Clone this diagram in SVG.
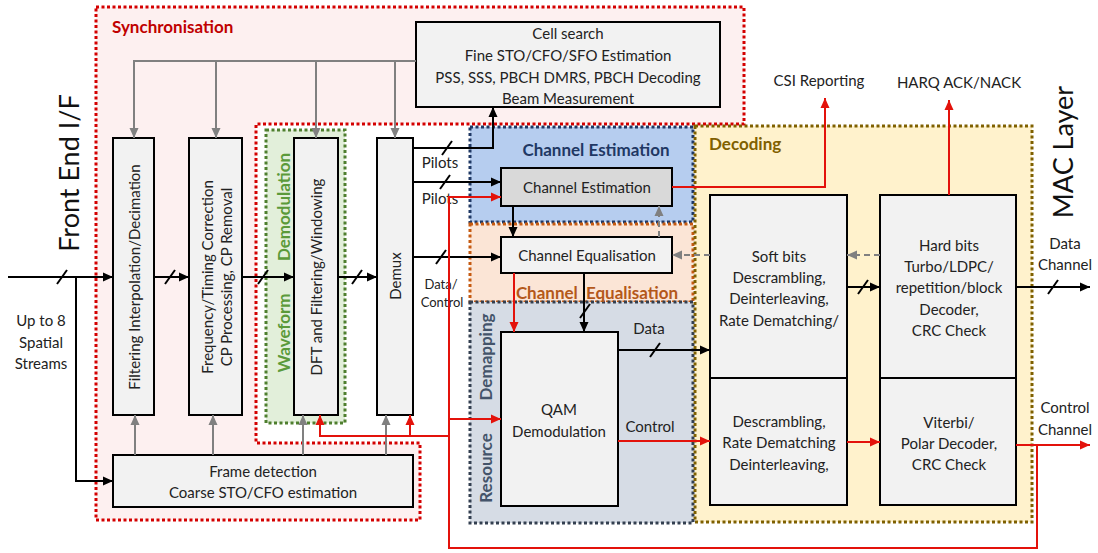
<svg xmlns="http://www.w3.org/2000/svg" xmlns:xlink="http://www.w3.org/1999/xlink" width="1098" height="553" viewBox="0 0 1098 553">
<style>
.t{font-family:Lato,"Liberation Sans",sans-serif;font-size:15px;fill:#222;text-anchor:middle;dominant-baseline:central}
.b{font-weight:bold;font-size:17px}
.box{fill:#f2f2f2;stroke:#000;stroke-width:2}
.reg{stroke-width:3;stroke-dasharray:3 2.5}
.k{fill:none;stroke:#000;stroke-width:2}
.g{fill:none;stroke:#808080;stroke-width:2}
.gd{fill:none;stroke:#808080;stroke-width:2;stroke-dasharray:6 4}
.r{fill:none;stroke:#e3120b;stroke-width:2}
.ka{marker-end:url(#ak)}
.ga{marker-end:url(#ag)}
.ra{marker-end:url(#ar)}
</style>
<defs>
<marker id="ak" viewBox="0 0 10 10" refX="10" refY="5" markerWidth="10" markerHeight="10" orient="auto" markerUnits="userSpaceOnUse"><path d="M0,0.5 L10,5 L0,9.5 z" fill="#000"/></marker>
<marker id="ag" viewBox="0 0 10 10" refX="10" refY="5" markerWidth="10" markerHeight="10" orient="auto" markerUnits="userSpaceOnUse"><path d="M0,0.5 L10,5 L0,9.5 z" fill="#808080"/></marker>
<marker id="ar" viewBox="0 0 10 10" refX="10" refY="5" markerWidth="10" markerHeight="10" orient="auto" markerUnits="userSpaceOnUse"><path d="M0,0.5 L10,5 L0,9.5 z" fill="#e3120b"/></marker>
<path id="sl" d="M-5,7 L5,-7" stroke="#000" stroke-width="2" fill="none"/>
</defs>

<g id="regions">
<path id="sync-region" class="reg" d="M96,7 H744 V124 H256 V443 H420 V520 H96 Z" fill="#fdf0f0" stroke="#d40000"/>
<rect id="waveform-region" class="reg" x="266" y="130" width="79" height="293" fill="#e2efda" stroke="#4e7f2e"/>
<rect id="chest-region" class="reg" x="470" y="127" width="223" height="95" fill="#b6cdef" stroke="#1f3864"/>
<rect id="cheq-region" class="reg" x="470" y="224" width="223" height="78" fill="#fbe5d6" stroke="#c55a11"/>
<rect id="demap-region" class="reg" x="470" y="302" width="223" height="221" fill="#d6dce5" stroke="#333f50"/>
<rect id="decoding-region" class="reg" x="695" y="126" width="337" height="396" fill="#fff2cc" stroke="#7f6000"/>
<text class="t b" x="112" y="26" style="text-anchor:start;fill:#c00000">Synchronisation</text>
<text class="t b" x="283" y="207" transform="rotate(-90 283 207)" style="fill:#5b9a3a">Demodulation</text>
<text class="t b" x="283" y="333" transform="rotate(-90 283 333)" style="fill:#5b9a3a">Waveform</text>
<text class="t b" x="596" y="149" style="fill:#1f3864">Channel Estimation</text>
<text class="t b" x="597" y="292" style="fill:#b4581a" word-spacing="4">Channel Equalisation</text>
<text class="t b" x="485" y="357" transform="rotate(-90 485 357)" style="fill:#44546a">Demapping</text>
<text class="t b" x="485" y="468" transform="rotate(-90 485 468)" style="fill:#44546a">Resource</text>
<text class="t b" x="709" y="143" style="text-anchor:start;fill:#806000">Decoding</text>
</g>

<g id="labels">
<text class="t" x="68" y="173" transform="rotate(-90 68 173)" style="font-size:27px;fill:#111">Front End I/F</text>
<text class="t" x="1062" y="152" transform="rotate(-90 1062 152)" style="font-size:27px;fill:#111">MAC Layer</text>
<text class="t" x="41" y="320">Up to 8</text>
<text class="t" x="41" y="342">Spatial</text>
<text class="t" x="41" y="363">Streams</text>
<text class="t" x="819" y="80">CSI Reporting</text>
<text class="t" x="959" y="82">HARQ ACK/NACK</text>
<text class="t" x="1065" y="243">Data</text>
<text class="t" x="1065" y="264">Channel</text>
<text class="t" x="1065" y="407">Control</text>
<text class="t" x="1065" y="429">Channel</text>
<text class="t" x="440" y="162">Pilots</text>
<text class="t" x="440" y="198">Pilots</text>
<text class="t" x="441" y="284" style="font-size:13px">Data/</text>
<text class="t" x="442" y="302" style="font-size:13px">Control</text>
<text class="t" x="649" y="328">Data</text>
<text class="t" x="650" y="426">Control</text>
</g>

<g id="n-filter"><rect class="box" x="113" y="138" width="41" height="277"/><text class="t" x="134" y="277" transform="rotate(-90 134 277)">Filtering Interpolation/Decimation</text></g>
<g id="n-freq"><rect class="box" x="189" y="138" width="53" height="277"/><text class="t" x="207" y="277" transform="rotate(-90 207 277)">Frequency/Timing Correction</text><text class="t" x="226" y="277" transform="rotate(-90 226 277)">CP Processing, CP Removal</text></g>
<g id="n-dft"><rect class="box" x="294" y="138" width="44" height="277"/><text class="t" x="316" y="277" transform="rotate(-90 316 277)">DFT and Filtering/Windowing</text></g>
<g id="n-demux"><rect class="box" x="377" y="138" width="36" height="277"/><text class="t" x="395" y="276" transform="rotate(-90 395 276)">Demux</text></g>
<g id="n-frame"><rect class="box" x="113" y="455" width="300" height="52"/><text class="t" x="263" y="471">Frame detection</text><text class="t" x="263" y="492">Coarse STO/CFO estimation</text></g>
<g id="n-cell"><rect class="box" x="416" y="22" width="304" height="85"/><text class="t" x="568" y="33">Cell search</text><text class="t" x="568" y="55">Fine STO/CFO/SFO Estimation</text><text class="t" x="568" y="77">PSS, SSS, PBCH DMRS, PBCH Decoding</text><text class="t" x="568" y="98">Beam Measurement</text></g>
<g id="n-chest"><rect class="box" x="501" y="168" width="171" height="38" style="fill:#d9d9d9"/><text class="t" x="587" y="187">Channel Estimation</text></g>
<g id="n-cheq"><rect class="box" x="501" y="237" width="171" height="36"/><text class="t" x="587" y="255">Channel Equalisation</text></g>
<g id="n-qam"><rect class="box" x="501" y="332" width="117" height="174"/><text class="t" x="559" y="409">QAM</text><text class="t" x="559" y="431">Demodulation</text></g>
<g id="n-soft"><rect class="box" x="710" y="195" width="137" height="183"/><text class="t" x="779" y="256">Soft bits</text><text class="t" x="779" y="277">Descrambling,</text><text class="t" x="779" y="298">Deinterleaving,</text><text class="t" x="779" y="320">Rate Dematching/</text></g>
<g id="n-descr"><rect class="box" x="710" y="378" width="137" height="127"/><text class="t" x="779" y="421">Descrambling,</text><text class="t" x="779" y="442">Rate Dematching</text><text class="t" x="779" y="464">Deinterleaving,</text></g>
<g id="n-hard"><rect class="box" x="880" y="195" width="136" height="183"/><text class="t" x="949" y="245">Hard bits</text><text class="t" x="949" y="266">Turbo/LDPC/</text><text class="t" x="949" y="287">repetition/block</text><text class="t" x="949" y="309">Decoder,</text><text class="t" x="949" y="330">CRC Check</text></g>
<g id="n-viterbi"><rect class="box" x="880" y="378" width="136" height="127"/><text class="t" x="949" y="422">Viterbi/</text><text class="t" x="949" y="443">Polar Decoder,</text><text class="t" x="949" y="464">CRC Check</text></g>

<g id="connectors">
<path class="k ka" d="M8,277 H113"/>
<path class="k ka" d="M76,277 V481 H113"/>
<path class="k ka" d="M154,277 H189"/>
<path class="k ka" d="M242,277 H294"/>
<path class="k ka" d="M338,277 H377"/>
<path class="k ka" d="M413,148 H493 V107"/>
<path class="k ka" d="M413,182 H501"/>
<path class="k ka" d="M413,257 H501"/>
<path class="k ka" d="M513,206 V237"/>
<path class="k ka" d="M584,273 V332"/>
<path class="k ka" d="M618,350 H710"/>
<path class="k ka" d="M847,287 H880"/>
<path class="k ka" d="M1016,287 H1090"/>
<use xlink:href="#sl" x="62" y="277"/>
<use xlink:href="#sl" x="170" y="277"/>
<use xlink:href="#sl" x="263" y="277"/>
<use xlink:href="#sl" x="357" y="277"/>
<use xlink:href="#sl" x="447" y="148"/>
<use xlink:href="#sl" x="445" y="182"/>
<use xlink:href="#sl" x="441" y="257"/>
<use xlink:href="#sl" x="585" y="311"/>
<use xlink:href="#sl" x="655" y="350"/>
<use xlink:href="#sl" x="863" y="287"/>
<use xlink:href="#sl" x="1053" y="287"/>
<path class="g ga" d="M416,61 H134 V138"/>
<path class="g ga" d="M216,61 V138"/>
<path class="g ga" d="M316,61 V138"/>
<path class="g ga" d="M395,61 V138"/>
<path class="g ga" d="M135,455 V415"/>
<path class="g ga" d="M213,455 V415"/>
<path class="g ga" d="M303,455 V415"/>
<path class="g ga" d="M386,455 V415"/>
<path class="gd ga" d="M659,237 V206"/>
<path class="gd ga" d="M710,255 H672"/>
<path class="gd ga" d="M880,255 H847"/>
<path class="r ra" d="M672,187 H825 V98"/>
<path class="r ra" d="M949,195 V100"/>
<path class="r ra" d="M514,273 V332"/>
<path class="r ra" d="M618,441 H710"/>
<path class="r ra" d="M847,442 H880"/>
<path class="r ra" d="M1016,445 H1090"/>
<path class="r ra" d="M1037,445 V548 H449 V197 H501"/>
<path class="r ra" d="M449,419 H501"/>
<path class="r ra" d="M449,436 H320 V415"/>
<path class="r ra" d="M410,436 V415"/>
</g>
</svg>
